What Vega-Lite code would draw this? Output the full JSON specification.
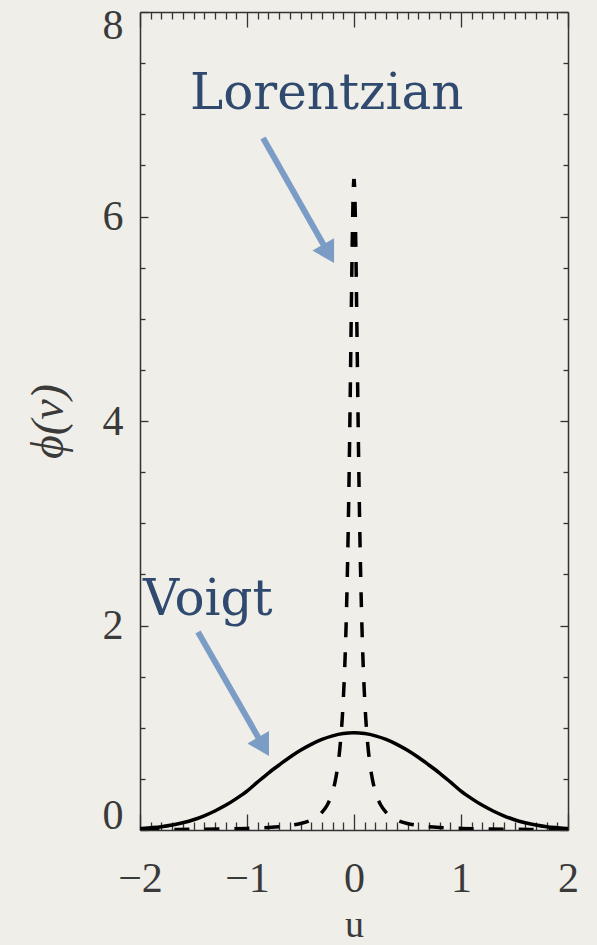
{
  "$schema": "https://vega.github.io/schema/vega-lite/v6.json",
  "autosize": "none",
  "width": 428,
  "height": 818,
  "padding": {"left": 140, "top": 12, "right": 29, "bottom": 115},
  "background": "#f0eee9",
  "config": {
    "view": {"stroke": null},
    "axis": {
      "grid": false,
      "domainColor": "#333333",
      "domainWidth": 1.5,
      "tickColor": "#333333",
      "tickWidth": 1.3,
      "labelFont": "Liberation Serif",
      "labelFontSize": 42,
      "labelColor": "#3a3a3a",
      "titleFont": "Liberation Serif",
      "titleFontSize": 42,
      "titleFontWeight": "normal",
      "titleColor": "#3a3a3a"
    }
  },
  "datasets": {
    "voigt": [
      {"u": -2.0, "phi": 0.014}, {"u": -1.9, "phi": 0.022}, {"u": -1.8, "phi": 0.032},
      {"u": -1.7, "phi": 0.048}, {"u": -1.6, "phi": 0.071}, {"u": -1.5, "phi": 0.100},
      {"u": -1.4, "phi": 0.139}, {"u": -1.3, "phi": 0.186}, {"u": -1.2, "phi": 0.241},
      {"u": -1.1, "phi": 0.307}, {"u": -1.0, "phi": 0.380}, {"u": -0.9, "phi": 0.470},
      {"u": -0.8, "phi": 0.557}, {"u": -0.7, "phi": 0.636}, {"u": -0.6, "phi": 0.712},
      {"u": -0.5, "phi": 0.780}, {"u": -0.4, "phi": 0.838}, {"u": -0.3, "phi": 0.886},
      {"u": -0.2, "phi": 0.921}, {"u": -0.1, "phi": 0.943}, {"u": 0.0, "phi": 0.950},
      {"u": 0.1, "phi": 0.943}, {"u": 0.2, "phi": 0.921}, {"u": 0.3, "phi": 0.886},
      {"u": 0.4, "phi": 0.838}, {"u": 0.5, "phi": 0.780}, {"u": 0.6, "phi": 0.712},
      {"u": 0.7, "phi": 0.636}, {"u": 0.8, "phi": 0.557}, {"u": 0.9, "phi": 0.470},
      {"u": 1.0, "phi": 0.380}, {"u": 1.1, "phi": 0.307}, {"u": 1.2, "phi": 0.241},
      {"u": 1.3, "phi": 0.186}, {"u": 1.4, "phi": 0.139}, {"u": 1.5, "phi": 0.100},
      {"u": 1.6, "phi": 0.071}, {"u": 1.7, "phi": 0.048}, {"u": 1.8, "phi": 0.032},
      {"u": 1.9, "phi": 0.022}, {"u": 2.0, "phi": 0.014}
    ],
    "lorentz": [
      {"side": "L", "u": -2.0, "phi": 0.004}, {"side": "L", "u": -1.75, "phi": 0.0052}, {"side": "L", "u": -1.5, "phi": 0.0071},
      {"side": "L", "u": -1.25, "phi": 0.0102}, {"side": "L", "u": -1.0, "phi": 0.0159}, {"side": "L", "u": -0.8, "phi": 0.0248},
      {"side": "L", "u": -0.7, "phi": 0.0323}, {"side": "L", "u": -0.6, "phi": 0.0439}, {"side": "L", "u": -0.5, "phi": 0.063},
      {"side": "L", "u": -0.4, "phi": 0.098}, {"side": "L", "u": -0.3, "phi": 0.172}, {"side": "L", "u": -0.25, "phi": 0.245},
      {"side": "L", "u": -0.2, "phi": 0.374}, {"side": "L", "u": -0.175, "phi": 0.480}, {"side": "L", "u": -0.15, "phi": 0.637},
      {"side": "L", "u": -0.135, "phi": 0.768}, {"side": "L", "u": -0.12, "phi": 0.942}, {"side": "L", "u": -0.11, "phi": 1.090},
      {"side": "L", "u": -0.1, "phi": 1.273}, {"side": "L", "u": -0.09, "phi": 1.501}, {"side": "L", "u": -0.08, "phi": 1.788},
      {"side": "L", "u": -0.07, "phi": 2.151}, {"side": "L", "u": -0.06, "phi": 2.609}, {"side": "L", "u": -0.05, "phi": 3.183},
      {"side": "L", "u": -0.045, "phi": 3.517}, {"side": "L", "u": -0.04, "phi": 3.882}, {"side": "L", "u": -0.035, "phi": 4.273},
      {"side": "L", "u": -0.03, "phi": 4.681}, {"side": "L", "u": -0.025, "phi": 5.093}, {"side": "L", "u": -0.02, "phi": 5.488},
      {"side": "L", "u": -0.015, "phi": 5.840}, {"side": "L", "u": -0.01, "phi": 6.121}, {"side": "L", "u": -0.005, "phi": 6.303},
      {"side": "L", "u": 0.0, "phi": 6.366},
      {"side": "R", "u": 0.0, "phi": 6.366},
      {"side": "R", "u": 0.005, "phi": 6.303}, {"side": "R", "u": 0.01, "phi": 6.121}, {"side": "R", "u": 0.015, "phi": 5.840},
      {"side": "R", "u": 0.02, "phi": 5.488}, {"side": "R", "u": 0.025, "phi": 5.093}, {"side": "R", "u": 0.03, "phi": 4.681},
      {"side": "R", "u": 0.035, "phi": 4.273}, {"side": "R", "u": 0.04, "phi": 3.882}, {"side": "R", "u": 0.045, "phi": 3.517},
      {"side": "R", "u": 0.05, "phi": 3.183}, {"side": "R", "u": 0.06, "phi": 2.609}, {"side": "R", "u": 0.07, "phi": 2.151},
      {"side": "R", "u": 0.08, "phi": 1.788}, {"side": "R", "u": 0.09, "phi": 1.501}, {"side": "R", "u": 0.1, "phi": 1.273},
      {"side": "R", "u": 0.11, "phi": 1.090}, {"side": "R", "u": 0.12, "phi": 0.942}, {"side": "R", "u": 0.135, "phi": 0.768},
      {"side": "R", "u": 0.15, "phi": 0.637}, {"side": "R", "u": 0.175, "phi": 0.480}, {"side": "R", "u": 0.2, "phi": 0.374},
      {"side": "R", "u": 0.25, "phi": 0.245}, {"side": "R", "u": 0.3, "phi": 0.172}, {"side": "R", "u": 0.4, "phi": 0.098},
      {"side": "R", "u": 0.5, "phi": 0.063}, {"side": "R", "u": 0.6, "phi": 0.0439}, {"side": "R", "u": 0.7, "phi": 0.0323},
      {"side": "R", "u": 0.8, "phi": 0.0248}, {"side": "R", "u": 1.0, "phi": 0.0159}, {"side": "R", "u": 1.25, "phi": 0.0102},
      {"side": "R", "u": 1.5, "phi": 0.0071}, {"side": "R", "u": 1.75, "phi": 0.0052}, {"side": "R", "u": 2.0, "phi": 0.004}
    ],
    "arrows": [
      {"name": "Lorentzian", "u0": -0.850, "v0": 6.767, "u1": -0.237, "v1": 5.636},
      {"name": "Voigt", "u0": -1.458, "v0": 1.936, "u1": -0.845, "v1": 0.815}
    ],
    "labels": [
      {"text": "Lorentzian", "u": -1.533, "v": 7.05},
      {"text": "Voigt", "u": -1.972, "v": 2.10}
    ]
  },
  "resolve": {"axis": {"x": "independent", "y": "independent"}},
  "layer": [
    {
      "data": {"name": "voigt"},
      "mark": {"type": "line", "color": "#000000", "strokeWidth": 3.5, "interpolate": "monotone", "clip": true},
      "encoding": {
        "x": {"field": "u", "type": "quantitative", "scale": {"domain": [-2, 2], "nice": false, "zero": false},
          "axis": {"orient": "bottom", "title": "u", "values": [-2, -1, 0, 1, 2], "ticks": false, "labelPadding": 28, "labelFlush": false, "labelExpr": "replace(datum.label, '-', '−')", "titleFontSize": 38, "titleBaseline": "alphabetic", "titleY": 106}},
        "y": {"field": "phi", "type": "quantitative", "scale": {"domain": [0, 8], "nice": false, "zero": false},
          "axis": {"orient": "left", "title": "ϕ(ν)", "values": [0, 2, 4, 6, 8], "ticks": false, "labelPadding": 17, "titlePadding": 30, "labelFlush": true, "labelFlushOffset": 7, "titleFontSize": 46, "titleFontStyle": "italic"}}
      }
    },
    {
      "data": {"name": "lorentz"},
      "mark": {"type": "line", "color": "#000000", "strokeWidth": 3.5, "strokeDash": [15, 15], "strokeDashOffset": 7, "strokeCap": "butt", "interpolate": "monotone", "clip": true},
      "encoding": {
        "x": {"field": "u", "type": "quantitative",
          "axis": {"orient": "top", "title": null, "values": [-2, -1, 0, 1, 2], "labels": false, "tickSize": -15}},
        "y": {"field": "phi", "type": "quantitative",
          "axis": {"orient": "right", "title": null, "values": [0, 2, 4, 6, 8], "labels": false, "tickSize": -8}},
        "detail": {"field": "side", "type": "nominal"},
        "order": {"field": "phi", "sort": "descending"}
      }
    },
    {
      "data": {"name": "voigt"},
      "mark": {"type": "line", "strokeOpacity": 0},
      "encoding": {
        "x": {"field": "u", "type": "quantitative",
          "axis": {"orient": "bottom", "title": null, "values": [-2, -1, 0, 1, 2], "labels": false, "domain": false, "tickSize": -16}},
        "y": {"field": "phi", "type": "quantitative",
          "axis": {"orient": "left", "title": null, "values": [0, 2, 4, 6, 8], "labels": false, "domain": false, "tickSize": -8}}
      }
    },
    {
      "data": {"name": "voigt"},
      "mark": {"type": "line", "strokeOpacity": 0},
      "encoding": {
        "x": {"field": "u", "type": "quantitative",
          "axis": {"orient": "bottom", "title": null, "values": [-1.9, -1.8, -1.7, -1.6, -1.5, -1.4, -1.3, -1.2, -1.1, -0.9, -0.8, -0.7, -0.6, -0.5, -0.4, -0.3, -0.2, -0.1, 0.1, 0.2, 0.3, 0.4, 0.5, 0.6, 0.7, 0.8, 0.9, 1.1, 1.2, 1.3, 1.4, 1.5, 1.6, 1.7, 1.8, 1.9], "labels": false, "domain": false, "tickSize": -8}},
        "y": {"field": "phi", "type": "quantitative",
          "axis": {"orient": "left", "title": null, "values": [0.5, 1, 1.5, 2.5, 3, 3.5, 4.5, 5, 5.5, 6.5, 7, 7.5], "labels": false, "domain": false, "tickSize": -5}}
      }
    },
    {
      "data": {"name": "voigt"},
      "mark": {"type": "line", "strokeOpacity": 0},
      "encoding": {
        "x": {"field": "u", "type": "quantitative",
          "axis": {"orient": "top", "title": null, "values": [-1.9, -1.8, -1.7, -1.6, -1.5, -1.4, -1.3, -1.2, -1.1, -0.9, -0.8, -0.7, -0.6, -0.5, -0.4, -0.3, -0.2, -0.1, 0.1, 0.2, 0.3, 0.4, 0.5, 0.6, 0.7, 0.8, 0.9, 1.1, 1.2, 1.3, 1.4, 1.5, 1.6, 1.7, 1.8, 1.9], "labels": false, "domain": false, "tickSize": -7}},
        "y": {"field": "phi", "type": "quantitative",
          "axis": {"orient": "right", "title": null, "values": [0.5, 1, 1.5, 2.5, 3, 3.5, 4.5, 5, 5.5, 6.5, 7, 7.5], "labels": false, "domain": false, "tickSize": -5}}
      }
    },
    {
      "data": {"name": "arrows"},
      "mark": {"type": "rule", "color": "#7b9cc5", "strokeWidth": 6},
      "encoding": {
        "x": {"field": "u0", "type": "quantitative", "axis": null},
        "y": {"field": "v0", "type": "quantitative", "axis": null},
        "x2": {"field": "u1"},
        "y2": {"field": "v1"}
      }
    },
    {
      "data": {"name": "arrows"},
      "mark": {"type": "point", "shape": "triangle-down", "filled": true, "color": "#7b9cc5", "opacity": 1, "size": 620, "angle": 330},
      "encoding": {
        "x": {"field": "u1", "type": "quantitative", "axis": null},
        "y": {"field": "v1", "type": "quantitative", "axis": null}
      }
    },
    {
      "data": {"name": "labels"},
      "mark": {"type": "text", "font": "DejaVu Serif", "fontSize": 50, "color": "#2f4a6e", "align": "left", "baseline": "alphabetic"},
      "encoding": {
        "x": {"field": "u", "type": "quantitative", "axis": null},
        "y": {"field": "v", "type": "quantitative", "axis": null},
        "text": {"field": "text"}
      }
    }
  ]
}
